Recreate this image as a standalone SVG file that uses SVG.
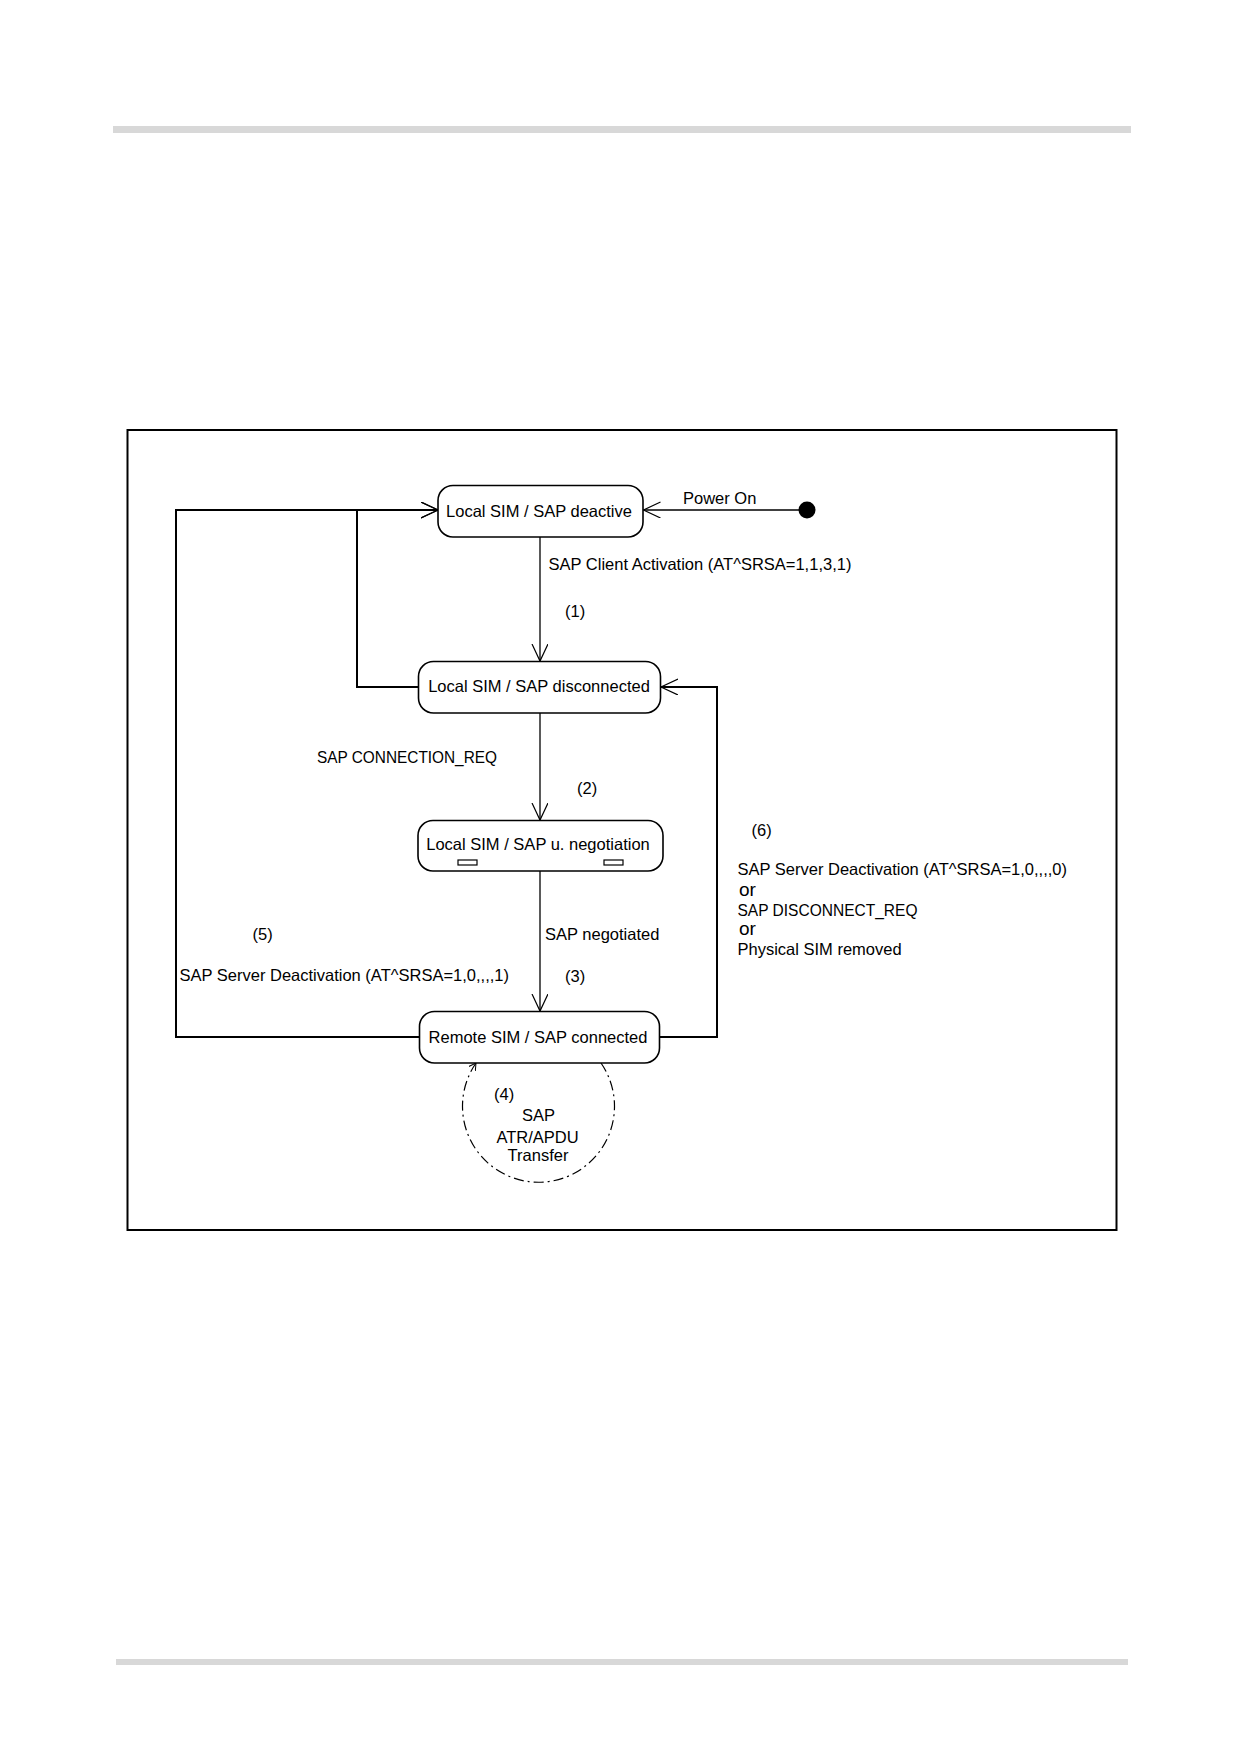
<svg xmlns="http://www.w3.org/2000/svg" width="1239" height="1754" viewBox="0 0 1239 1754">
<style>
  text { font-family: "Liberation Sans", Arial, sans-serif; font-size: 16.5px; fill: #000; }
  .node { fill: #fff; stroke: #000; stroke-width: 1.6; }
  .c { fill: none; stroke: #000; stroke-width: 1.3; }
  .thick { fill: none; stroke: #000; stroke-width: 2; }
  .mid { text-anchor: middle; }
  .or { font-size: 19px; }
</style>
<defs>
  <marker id="arr" markerUnits="userSpaceOnUse" markerWidth="20" markerHeight="20" refX="17" refY="8" orient="auto">
    <path d="M0,0 L17,8 L0,16" fill="none" stroke="#000" stroke-width="1.2"/>
  </marker>
  <marker id="arrs" markerUnits="userSpaceOnUse" markerWidth="10" markerHeight="10" refX="7" refY="4" orient="auto">
    <path d="M0,0 L7,4 L0,8" fill="none" stroke="#000" stroke-width="1"/>
  </marker>
</defs>
<rect width="1239" height="1754" fill="#fff"/>
<rect x="113" y="126" width="1018" height="7" fill="#d8d8d8"/>
<rect x="116" y="1659" width="1012" height="6" fill="#d8d8d8"/>
<rect x="127.5" y="430" width="989" height="800" fill="none" stroke="#000" stroke-width="2"/>

<g id="connectors">
  <line class="c" x1="807" y1="510" x2="643.5" y2="510" marker-end="url(#arr)"/>
  <line class="c" x1="540" y1="537" x2="540" y2="661" marker-end="url(#arr)"/>
  <line class="c" x1="540" y1="713" x2="540" y2="820" marker-end="url(#arr)"/>
  <line class="c" x1="540" y1="871" x2="540" y2="1011" marker-end="url(#arr)"/>
  <polyline class="thick" points="418.5,687 357,687 357,510 438,510" marker-end="url(#arr)"/>
  <polyline class="thick" points="419.5,1037 176,1037 176,510 438,510" marker-end="url(#arr)"/>
  <polyline class="thick" points="659.5,1037 717,1037 717,687 661,687" marker-end="url(#arr)"/>
  <path d="M601,1063 A76,76 0 1 1 476,1063" fill="none" stroke="#000" stroke-width="1.2" stroke-dasharray="10 4 2 4" marker-end="url(#arrs)"/>
</g>

<g id="initial">
  <circle cx="807" cy="510" r="8.5" fill="#000"/>
</g>

<g id="node-deactive">
  <rect class="node" x="438" y="485.5" width="205" height="51.5" rx="15" ry="15"/>
  <text class="mid" x="539" y="517">Local SIM / SAP deactive</text>
</g>
<g id="node-disconnected">
  <rect class="node" x="418.5" y="661.5" width="242" height="51.5" rx="15" ry="15"/>
  <text class="mid" x="539" y="692">Local SIM / SAP disconnected</text>
</g>
<g id="node-negotiation">
  <rect class="node" x="418" y="820.5" width="245" height="50.5" rx="15" ry="15"/>
  <text class="mid" x="538" y="850">Local SIM / SAP u. negotiation</text>
  <rect x="458" y="860" width="19" height="5" fill="none" stroke="#000" stroke-width="1.2"/>
  <rect x="604" y="860" width="19" height="5" fill="none" stroke="#000" stroke-width="1.2"/>
</g>
<g id="node-connected">
  <rect class="node" x="419.5" y="1011.5" width="240" height="51.5" rx="15" ry="15"/>
  <text class="mid" x="538" y="1043">Remote SIM / SAP connected</text>
</g>

<g id="labels">
  <text x="683" y="504">Power On</text>
  <text x="548.5" y="570">SAP Client Activation (AT^SRSA=1,1,3,1)</text>
  <text x="565" y="617">(1)</text>
  <text x="317" y="763" textLength="180" lengthAdjust="spacingAndGlyphs">SAP CONNECTION_REQ</text>
  <text x="577" y="794">(2)</text>
  <text x="252.5" y="940">(5)</text>
  <text x="545" y="940">SAP negotiated</text>
  <text x="179.5" y="981">SAP Server Deactivation (AT^SRSA=1,0,,,,1)</text>
  <text x="565" y="982">(3)</text>
  <text x="751.5" y="836">(6)</text>
  <text x="737.5" y="875">SAP Server Deactivation (AT^SRSA=1,0,,,,0)</text>
  <text class="or" x="739" y="896">or</text>
  <text x="737.5" y="916" textLength="180" lengthAdjust="spacingAndGlyphs">SAP DISCONNECT_REQ</text>
  <text class="or" x="739" y="935">or</text>
  <text x="737.5" y="955">Physical SIM removed</text>
  <text x="494" y="1100">(4)</text>
  <text class="mid" x="538.5" y="1121">SAP</text>
  <text class="mid" x="537.5" y="1143">ATR/APDU</text>
  <text class="mid" x="538" y="1161">Transfer</text>
</g>
</svg>
